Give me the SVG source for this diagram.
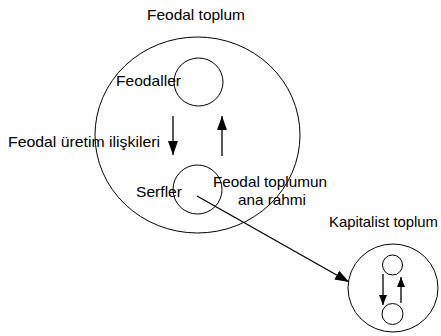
<svg xmlns="http://www.w3.org/2000/svg" width="441" height="336" viewBox="0 0 441 336">
<style>
text{font-family:"Liberation Sans",Arial,sans-serif;font-size:14.5px;fill:#000}
.c{fill:none;stroke:#000;stroke-width:1}
.a{stroke:#000;stroke-width:1.3;fill:none}
</style>
<defs>
<marker id="ah" markerUnits="userSpaceOnUse" markerWidth="16" markerHeight="12" refX="14" refY="5" orient="auto"><path d="M0,0 L14,5 L0,10 Z" fill="#000"/></marker>
<marker id="as" markerUnits="userSpaceOnUse" markerWidth="12" markerHeight="10" refX="10" refY="4" orient="auto"><path d="M0,0 L10,4 L0,8 Z" fill="#000"/></marker>
</defs>
<rect width="441" height="336" fill="#fff"/>
<g id="feodal">
<ellipse class="c" cx="197.5" cy="135" rx="102.5" ry="98"/>
<text x="147" y="20" textLength="98" lengthAdjust="spacingAndGlyphs">Feodal toplum</text>
</g>
<g id="feodaller">
<ellipse class="c" cx="198.5" cy="82" rx="24.5" ry="24"/>
<text x="116" y="86" textLength="65" lengthAdjust="spacingAndGlyphs">Feodaller</text>
</g>
<g id="serfler">
<ellipse class="c" cx="197.5" cy="189.5" rx="24.5" ry="24.5"/>
<text x="136" y="197" textLength="46" lengthAdjust="spacingAndGlyphs">Serfler</text>
</g>
<g id="uretim">
<text x="8" y="147" textLength="152" lengthAdjust="spacingAndGlyphs">Feodal üretim ilişkileri</text>
</g>
<g id="rahim">
<text x="213" y="187" textLength="114" lengthAdjust="spacingAndGlyphs">Feodal toplumun</text>
<text x="238" y="205" textLength="68" lengthAdjust="spacingAndGlyphs">ana rahmi</text>
</g>
<g id="kapitalist">
<ellipse class="c" cx="393" cy="288" rx="45" ry="44"/>
<text x="329" y="227" textLength="109" lengthAdjust="spacingAndGlyphs">Kapitalist toplum</text>
<circle class="c" cx="392.5" cy="265" r="10"/>
<circle class="c" cx="392.5" cy="314" r="10.5"/>
</g>
<g id="connectors">
<line class="a" x1="173" y1="116" x2="173" y2="155" marker-end="url(#ah)"/>
<line class="a" x1="222" y1="156" x2="222" y2="116" marker-end="url(#ah)"/>
<line class="a" x1="197" y1="196" x2="349" y2="282" marker-end="url(#ah)"/>
<line class="a" x1="383" y1="274" x2="383" y2="305" marker-end="url(#as)"/>
<line class="a" x1="401" y1="303" x2="401" y2="277" marker-end="url(#as)"/>
</g>
</svg>
